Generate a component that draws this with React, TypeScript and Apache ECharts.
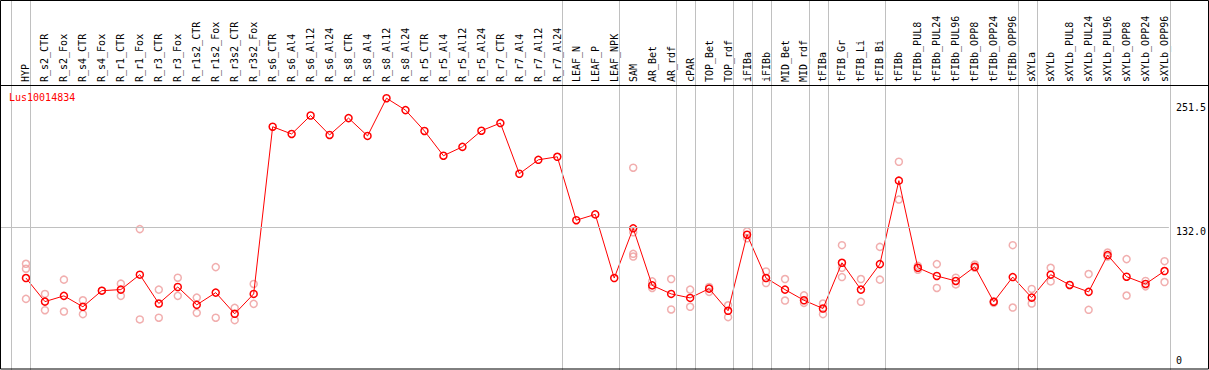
import React, { useEffect, useRef } from "react";
import * as echarts from "echarts";

const title = "Lus10014834";

const categories = [
  "HYP", "R_s2_CTR", "R_s2_Fox", "R_s4_CTR", "R_s4_Fox", "R_r1_CTR", "R_r1_Fox", "R_r3_CTR", "R_r3_Fox",
  "R_r1s2_CTR", "R_r1s2_Fox", "R_r3s2_CTR", "R_r3s2_Fox", "R_s6_CTR", "R_s6_Al4", "R_s6_Al12", "R_s6_Al24",
  "R_s8_CTR", "R_s8_Al4", "R_s8_Al12", "R_s8_Al24", "R_r5_CTR", "R_r5_Al4", "R_r5_Al12", "R_r5_Al24",
  "R_r7_CTR", "R_r7_Al4", "R_r7_Al12", "R_r7_Al24", "LEAF_N", "LEAF_P", "LEAF_NPK", "SAM", "AR_Bet", "AR_rdf",
  "cPAR", "TOP_Bet", "TOP_rdf", "iFIBa", "iFIBb", "MID_Bet", "MID_rdf", "tFIBa", "tFIB_Gr", "tFIB_Li", "tFIB_Bi",
  "tFIBb", "tFIBb_PUL8", "tFIBb_PUL24", "tFIBb_PUL96", "tFIBb_OPP8", "tFIBb_OPP24", "tFIBb_OPP96", "sXYLa",
  "sXYLb", "sXYLb_PUL8", "sXYLb_PUL24", "sXYLb_PUL96", "sXYLb_OPP8", "sXYLb_OPP24", "sXYLb_OPP96",
];

const means = [
  85.1, 63.3, 68.6, 58.5, 73.4, 74.4, 88.2, 61.5, 76.8,
  60.3, 71.6, 52.0, 70.4, 225.1, 218.4, 235.5, 217.5,
  233.1, 216.6, 251.5, 240.5, 221.2, 198.3, 206.5, 221.4,
  228.5, 181.6, 194.5, 197.3, 138.6, 144.0, 85.1, 131.1, 78.3, 70.4,
  66.7, 75.3, 54.8, 125.2, 85.1, 74.4, 64.5, 56.9, 99.2, 74.4, 98.0,
  175.2, 94.6, 87.0, 82.4, 95.5, 63.1, 86.0, 67.0,
  88.2, 78.7, 72.3, 106.3, 86.3, 79.6, 91.6,
];

const replicates: number[][] = [
  [98.3, 93.7, 65.8], [70.4, 55.3], [83.6, 54.1], [64.5, 51.7], [73.4], [79.9, 68.6], [130.4, 46.8], [74.4, 48.4], [85.4, 68.6],
  [67.0, 52.9], [95.2, 48.4], [57.5, 46.1], [79.6, 61.2], [], [], [], [],
  [], [], [], [], [], [], [], [],
  [], [], [], [], [], [], [], [187.2, 127.4, 107.5, 105.0], [82.0, 75.9], [84.2, 56.0],
  [74.4, 58.5], [76.8, 72.3], [59.9, 48.9], [128.3, 121.9], [91.2, 80.5], [84.2, 64.3], [69.1, 62.1], [61.5, 51.7], [115.5, 94.6, 86.0], [84.2, 63.1], [113.9, 83.6],
  [192.7, 157.7], [96.4, 92.8], [98.0, 75.9], [85.4, 79.2], [97.6, 94.6], [63.6, 62.1], [115.5, 57.8], [75.0, 61.5],
  [94.6, 82.0], [78.7], [88.8, 55.7], [108.7, 105.0], [102.6, 68.9], [82.4, 77.4], [100.7, 81.4],
];

// indices of the last category in each group (a separator follows each)
const groupEnds = [-1, 0, 28, 31, 34, 35, 37, 38, 39, 41, 42, 45, 52, 53, 60];

const yTicks = [0, 132.0, 251.5];
const refLine = 132.0;

const W = 1209;
const H = 370;
const FONT = "DejaVu Sans Mono";

export default function App() {
  const ref = useRef<HTMLDivElement>(null);

  useEffect(() => {
    if (!ref.current) return;
    const chart = echarts.init(ref.current, undefined, { renderer: "svg" });

    const pxPerUnit = 19;
    const firstPx = 26;
    const left = 1;
    const sepOffset = 0.23;
    const xMin = (left - firstPx) / pxPerUnit;
    const xMax = groupEnds[groupEnds.length - 1] + sepOffset;
    const rightPx = firstPx + xMax * pxPerUnit;

    const plotTop = 85;
    const zeroPx = 371.9;
    const pxPerVal = 1.08787;
    const yMax = (zeroPx - plotTop) / pxPerVal;

    const meanData = means.map((v, i) => [i, v]);
    const repData: number[][] = [];
    replicates.forEach((arr, i) => arr.forEach((v) => repData.push([i, v])));

    const gray = "#c0c0c0";

    chart.setOption({
      animation: false,
      backgroundColor: "#ffffff",
      title: {
        text: title,
        left: 9,
        top: 92,
        padding: 0,
        textStyle: { color: "#ff0000", fontSize: 10, fontFamily: FONT, fontWeight: "normal" },
      },
      grid: [
        { left, top: plotTop, width: rightPx - left, height: zeroPx - plotTop, containLabel: false },
        { left, top: 0, width: rightPx - left, height: H, containLabel: false },
      ],
      xAxis: [
        {
          type: "value",
          gridIndex: 0,
          position: "top",
          min: xMin,
          max: xMax,
          axisLine: { show: false },
          axisTick: { show: false },
          splitLine: { show: false },
          axisLabel: {
            customValues: categories.map((_, i) => i),
            formatter: (v: number) => categories[Math.round(v)] ?? "",
            rotate: 90,
            margin: 3,
            color: "#000",
            fontSize: 10,
            fontFamily: FONT,
          },
        },
        {
          type: "value",
          gridIndex: 1,
          min: xMin,
          max: xMax,
          show: false,
        },
      ],
      yAxis: [
        {
          type: "value",
          gridIndex: 0,
          position: "right",
          min: 0,
          max: yMax,
          axisLine: { show: false },
          axisTick: { show: false },
          splitLine: { show: false },
          axisLabel: {
            customValues: yTicks,
            margin: 7,
            color: "#000",
            fontSize: 10,
            fontFamily: FONT,
            align: "left",
            formatter: (v: number) => {
              const s = v === 0 ? "0" : v.toFixed(1);
              if (v === 0) return `{b|${s}}`;
              if (v >= yTicks[yTicks.length - 1]) return `{t|${s}}`;
              return `{m|${s}}`;
            },
            rich: {
              b: { padding: [0, 0, 20, 0], fontSize: 10, fontFamily: FONT, color: "#000" },
              t: { padding: [19, 0, 0, 0], fontSize: 10, fontFamily: FONT, color: "#000" },
              m: { padding: [9, 0, 0, 0], fontSize: 10, fontFamily: FONT, color: "#000" },
            },
          },
        },
        { type: "value", gridIndex: 1, min: 0, max: 1, show: false },
      ],
      series: [
        {
          type: "line",
          xAxisIndex: 1,
          yAxisIndex: 1,
          data: [],
          silent: true,
          markLine: {
            silent: true,
            symbol: ["none", "none"],
            label: { show: false },
            lineStyle: { color: gray, type: "solid", width: 1 },
            data: groupEnds.map((g) => ({ xAxis: g + sepOffset })),
          },
          z: 1,
        },
        {
          type: "scatter",
          xAxisIndex: 0,
          yAxisIndex: 0,
          data: repData,
          symbol: "circle",
          symbolSize: 7,
          itemStyle: { color: "rgba(0,0,0,0)", borderColor: "#ee9a9a", borderWidth: 1.5 },
          z: 2,
        },
        {
          type: "line",
          xAxisIndex: 0,
          yAxisIndex: 0,
          data: meanData,
          symbol: "circle",
          symbolSize: 7,
          showAllSymbol: true,
          lineStyle: { color: "#ff0000", width: 1 },
          itemStyle: { color: "rgba(0,0,0,0)", borderColor: "#ff0000", borderWidth: 1.5 },
          markLine: {
            silent: true,
            symbol: ["none", "none"],
            label: { show: false },
            lineStyle: { color: gray, type: "solid", width: 1 },
            data: [{ yAxis: refLine }],
          },
          z: 3,
        },
      ],
      graphic: [
        {
          type: "rect",
          shape: { x: 0.5, y: 0.5, width: W - 1, height: H - 1.5 },
          style: { fill: "none", stroke: "#000", lineWidth: 1 },
          silent: true,
          z: 10,
        },
        {
          type: "line",
          shape: { x1: 0, y1: plotTop + 0.5, x2: W, y2: plotTop + 0.5 },
          style: { stroke: "#000", lineWidth: 1 },
          silent: true,
          z: 10,
        },
      ],
    });

    return () => chart.dispose();
  }, []);

  return (
    <div
      ref={ref}
      style={{ position: "fixed", left: 0, top: 0, width: W, height: H, background: "#fff" }}
    />
  );
}
